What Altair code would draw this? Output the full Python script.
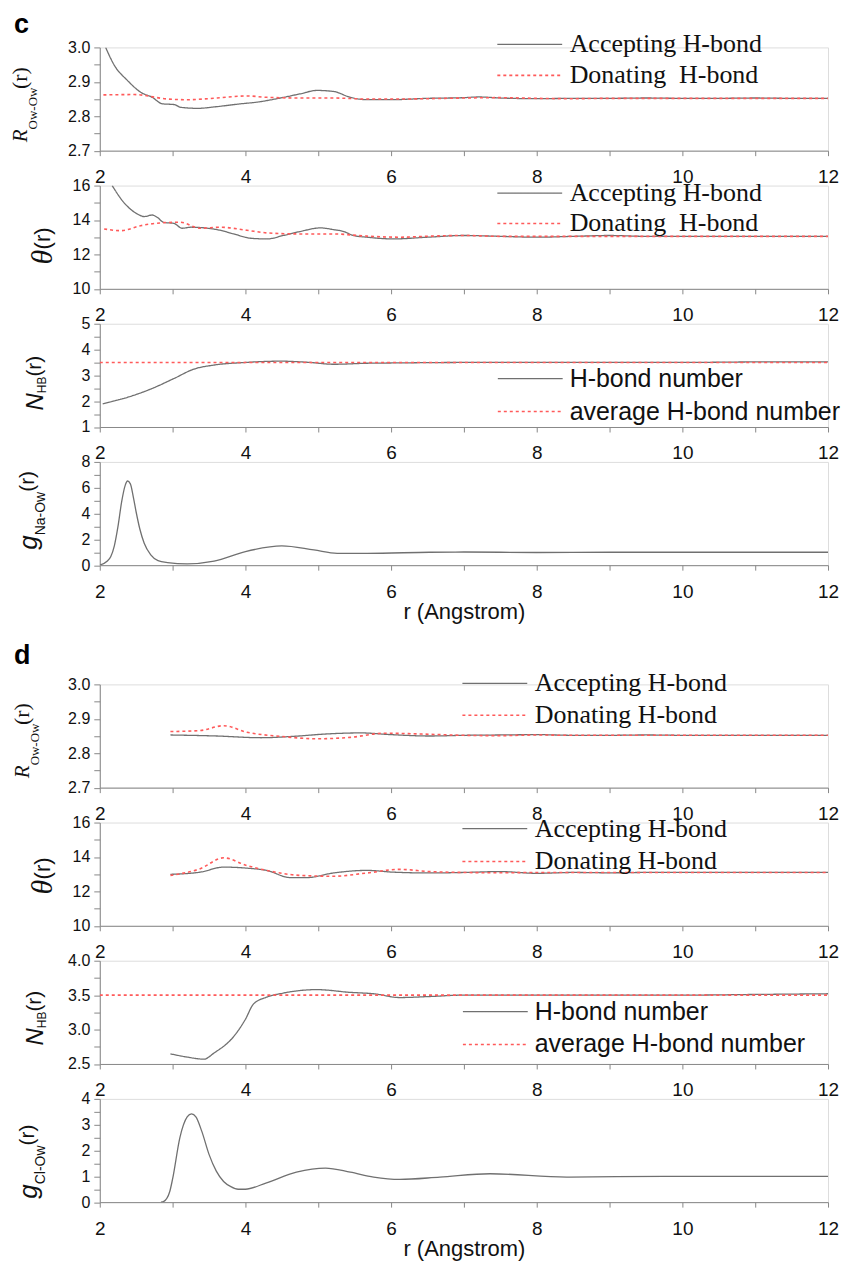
import altair as alt
import pandas as pd

# ---------------- data ----------------
# panel c : Na+
c_R_acc_x = [2.08, 2.2, 2.38, 2.56, 2.72, 2.86, 3.02, 3.11, 3.34, 3.61, 3.93, 4.16, 4.48, 4.75, 4.98,
             5.21, 5.44, 5.67, 5.99, 6.5, 7.0, 7.2, 7.5, 8.0, 8.5, 9.0, 9.5, 10.0, 10.5, 11.0, 11.5, 12.0]
c_R_acc_y = [3.0, 2.948, 2.904, 2.87, 2.855, 2.836, 2.834, 2.826, 2.823, 2.828, 2.836, 2.841, 2.853, 2.865, 2.875,
             2.872, 2.855, 2.848, 2.848, 2.852, 2.854, 2.856, 2.853, 2.851, 2.852, 2.852, 2.853, 2.852, 2.852, 2.853, 2.852, 2.852]
c_R_don_x = [2.05, 2.47, 2.93, 3.2, 3.61, 4.02, 4.29, 4.75, 5.21, 5.67, 6.12, 6.5, 7.0, 7.5, 8.0,
             8.5, 9.0, 9.5, 10.0, 10.5, 11.0, 11.5, 12.0]
c_R_don_y = [2.862, 2.863, 2.85, 2.848, 2.853, 2.859, 2.855, 2.853, 2.853, 2.85, 2.85, 2.851, 2.853, 2.854, 2.852,
             2.851, 2.852, 2.852, 2.852, 2.852, 2.852, 2.852, 2.852]

c_T_acc_x = [2.17, 2.33, 2.52, 2.61, 2.72, 2.79, 2.88, 3.02, 3.13, 3.25, 3.61, 3.84, 4.07, 4.3, 4.52, 4.75,
             5.03, 5.21, 5.35, 5.48, 5.67, 6.03, 6.5, 7.0, 7.5, 8.0, 8.5, 9.0, 9.5, 10.0, 10.5, 11.0, 11.5, 12.0]
c_T_acc_y = [16.0, 15.02, 14.34, 14.2, 14.29, 14.15, 13.86, 13.8, 13.52, 13.58, 13.44, 13.19, 12.94, 12.9, 13.1, 13.33,
             13.54, 13.44, 13.33, 13.1, 13.0, 12.9, 13.0, 13.1, 13.05, 13.0, 13.05, 13.1, 13.05, 13.05, 13.05, 13.05, 13.05, 13.05]
c_T_don_x = [2.06, 2.29, 2.56, 2.83, 3.1, 3.38, 3.66, 4.02, 4.3, 4.75, 5.21, 5.67, 6.12, 6.53, 7.0,
             7.5, 8.0, 8.5, 9.0, 9.5, 10.0, 10.5, 11.0, 11.5, 12.0]
c_T_don_y = [13.48, 13.38, 13.67, 13.83, 13.87, 13.52, 13.58, 13.4, 13.25, 13.19, 13.19, 13.06, 13.0, 13.06, 13.1,
             13.05, 13.05, 13.05, 13.05, 13.05, 13.05, 13.05, 13.05, 13.05, 13.05]

c_N_x = [2.04, 2.38, 2.7, 3.02, 3.29, 3.57, 4.0, 4.48, 4.89, 5.21, 5.67, 6.0, 7.0, 8.0, 9.0, 10.0, 11.0, 12.0]
c_N_y = [1.9, 2.15, 2.47, 2.88, 3.24, 3.4, 3.5, 3.55, 3.5, 3.43, 3.47, 3.48, 3.5, 3.5, 3.5, 3.5, 3.52, 3.52]
c_Navg_x = [2.0, 12.0]
c_Navg_y = [3.5, 3.5]

c_g_x = [2.0, 2.1, 2.15, 2.2, 2.25, 2.3, 2.35, 2.38, 2.42, 2.46, 2.5, 2.55, 2.61, 2.7, 2.8, 2.93, 3.2,
         3.57, 4.0, 4.5, 4.94, 5.26, 5.67, 6.53, 7.0, 8.0, 9.0, 10.0, 11.0, 12.0]
c_g_y = [0.0, 0.3, 0.65, 1.5, 3.0, 4.9, 6.2, 6.52, 6.3, 5.3, 4.1, 2.8, 1.7, 0.8, 0.35, 0.2, 0.1,
         0.31, 1.05, 1.49, 1.18, 0.92, 0.92, 1.0, 1.02, 0.98, 1.0, 1.0, 1.0, 1.0]

# panel d : Cl-
d_R_acc_x = [2.97, 3.61, 4.21, 4.66, 5.12, 5.58, 6.0, 6.53, 7.0, 7.5, 8.0, 8.5, 9.0, 9.5, 10.0, 10.5, 11.0, 11.5, 12.0]
d_R_acc_y = [2.853, 2.85, 2.845, 2.849, 2.856, 2.859, 2.854, 2.85, 2.852, 2.853, 2.854, 2.852, 2.852, 2.853, 2.852,
             2.852, 2.852, 2.852, 2.852]
d_R_don_x = [2.97, 3.38, 3.7, 4.02, 4.48, 4.98, 5.44, 5.9, 6.53, 7.0, 7.5, 8.0, 8.5, 9.0, 9.5, 10.0, 10.5, 11.0, 11.5, 12.0]
d_R_don_y = [2.863, 2.866, 2.88, 2.861, 2.849, 2.842, 2.846, 2.858, 2.855, 2.852, 2.851, 2.853, 2.852, 2.852, 2.852,
             2.852, 2.852, 2.852, 2.852, 2.852]

d_T_acc_x = [2.97, 3.38, 3.7, 4.02, 4.29, 4.62, 4.84, 5.21, 5.67, 6.02, 6.53, 7.0, 7.5, 8.0, 8.5, 9.0, 9.5, 10.0,
             10.5, 11.0, 11.5, 12.0]
d_T_acc_y = [12.99, 13.12, 13.41, 13.35, 13.22, 12.8, 12.8, 13.07, 13.22, 13.12, 13.07, 13.1, 13.15, 13.05, 13.1,
             13.08, 13.1, 13.1, 13.1, 13.1, 13.1, 13.1]
d_T_don_x = [2.97, 3.38, 3.7, 4.02, 4.29, 4.75, 5.21, 5.67, 6.12, 6.53, 7.0, 7.5, 8.0, 8.5, 9.0, 9.5, 10.0, 10.5,
             11.0, 11.5, 12.0]
d_T_don_y = [12.93, 13.32, 13.95, 13.5, 13.22, 12.93, 12.88, 13.07, 13.28, 13.15, 13.1, 13.08, 13.1, 13.1, 13.1,
             13.1, 13.1, 13.1, 13.1, 13.1, 13.1]

d_N_x = [2.97, 3.2, 3.43, 3.57, 3.84, 4.0, 4.11, 4.29, 4.52, 4.98, 5.44, 5.76, 6.12, 6.53, 7.0, 8.0, 9.0, 10.0, 11.0, 12.0]
d_N_y = [2.647, 2.6, 2.57, 2.66, 2.9, 3.15, 3.37, 3.47, 3.53, 3.58, 3.54, 3.52, 3.465, 3.48, 3.5, 3.5, 3.5, 3.5, 3.51, 3.52]
d_Navg_x = [2.0, 12.0]
d_Navg_y = [3.5, 3.5]

d_g_x = [2.84, 2.88, 2.96, 3.0, 3.1, 3.2, 3.26, 3.32, 3.4, 3.5, 3.6, 3.7, 3.8, 3.9, 4.0, 4.29, 4.7, 5.1, 5.44,
         5.76, 6.12, 6.67, 7.36, 8.41, 9.78, 12.0]
d_g_y = [0.0, 0.03, 0.4, 0.9, 2.5, 3.3, 3.42, 3.3, 2.75, 1.85, 1.2, 0.8, 0.6, 0.5, 0.5, 0.75, 1.16, 1.32, 1.16,
         0.97, 0.88, 0.97, 1.1, 0.97, 1.0, 1.0]

# legend texts
c_rt_labels = ["Accepting H-bond", "Donating\u00a0 H-bond"]
d_rt_labels = ["Accepting H-bond", "Donating H-bond"]
n_labels = ["H-bond number", "average H-bond number"]
x_title = "r (Angstrom)"

# ---------------- styling ----------------
SANS = "Liberation Sans"
SERIF = "Liberation Serif"
GRAY = "#707070"
RED = "#ff5a5a"
INK = "#111111"
W = 730
H = 103.5
SP = 34.5

SANS_W = {'(': .333, ')': .333, 'r': .333, 'N': .722, 'H': .722, 'B': .667, 'g': .556, 'a': .556,
          '-': .333, 'O': .778, 'w': .722, 'C': .722, 'l': .222, ' ': .278}
SERIF_W = {'R': .611, 'O': .722, 'w': .667, '-': .333, '(': .333, 'r': .333, ')': .333, 'θ': .5, ' ': .25}

one = pd.DataFrame({"k": [0]})


def est_width(text, fam, size):
    table = SERIF_W if fam == SERIF else SANS_W
    return sum(table.get(ch, .55) for ch in text) * size


def two_series(xa, ya, xb, yb, labels):
    return pd.concat([pd.DataFrame({"x": xa, "y": ya, "s": labels[0]}),
                      pd.DataFrame({"x": xb, "y": yb, "s": labels[1]})], ignore_index=True)


def x_enc(show_title):
    ax = alt.Axis(values=list(range(2, 13)),
                  labelExpr="datum.value % 2 == 0 ? datum.label : ''",
                  labelFont=SANS, labelFontSize=19, labelColor=INK, labelPadding=12,
                  labelFlush=False, tickSize=5, grid=False,
                  titleFont=SANS, titleFontSize=22, titleFontWeight="normal", titleColor=INK,
                  titlePadding=0)
    if show_title:
        return alt.X("x:Q", scale=alt.Scale(domain=[2, 12], nice=False), axis=ax, title=x_title)
    return alt.X("x:Q", scale=alt.Scale(domain=[2, 12], nice=False), axis=ax, title=None)


def y_enc(dom, ticks, majors, fmt):
    expr = "indexof(%s, datum.value) >= 0 ? format(datum.value, '%s') : ''" % (
        "[" + ",".join(repr(m) for m in majors) + "]", fmt)
    ax = alt.Axis(values=ticks, labelExpr=expr, labelFont=SANS, labelFontSize=16,
                  labelColor=INK, labelPadding=4, tickSize=6, grid=False, labelFlush=False)
    return alt.Y("y:Q", scale=alt.Scale(domain=dom, nice=False, zero=False), axis=ax, title=None)


def legend(x, row1, gap, font, size):
    # a 65 px long stroke drawn by a custom path (unit box scaled by sqrt(size)/2 = 6.5)
    return alt.Legend(orient="none", legendX=x + 20, legendY=row1 - size / 2, title=None,
                      symbolType="M-5,0H5", symbolSize=169, symbolStrokeWidth=1.3,
                      labelFont=font, labelFontSize=size, labelColor=INK, labelLimit=500,
                      labelOffset=27, rowPadding=gap - size, padding=0)


def ytitle(segments, y_start):
    out = []
    y = y_start
    for text, fam, size, style, weight, xb in segments:
        out.append(alt.Chart(one).mark_text(text=text, font=fam, fontSize=size, fontStyle=style,
                                            fontWeight=weight, angle=270, align="left",
                                            baseline="alphabetic", color=INK)
                   .encode(x=alt.value(xb), y=alt.value(y)))
        y -= est_width(text, fam, size)
    return out


def tag(letter, y):
    return alt.Chart(one).mark_text(text=letter, font=SANS, fontSize=27, fontWeight="bold",
                                    align="left", baseline="alphabetic", color="black").encode(
        x=alt.value(-86), y=alt.value(y))


def pair_panel(df, labels, dom, ticks, majors, fmt, leg, title_layers, extra=()):
    lines = alt.Chart(df).mark_line(interpolate="monotone", clip=True).encode(
        x=x_enc(False),
        y=y_enc(dom, ticks, majors, fmt),
        color=alt.Color("s:N", scale=alt.Scale(domain=labels, range=[GRAY, RED]), legend=leg),
        strokeDash=alt.StrokeDash("s:N", scale=alt.Scale(domain=labels, range=[[1, 0], [3, 3]]), legend=leg),
        strokeWidth=alt.StrokeWidth("s:N", scale=alt.Scale(domain=labels, range=[1.3, 1.6]), legend=None),
        order=alt.Order("s:N", sort="descending"),
    )
    return alt.layer(lines, *title_layers, *extra).properties(width=W, height=H)


def g_panel(xs, ys, dom, ticks, majors, title_layers):
    df = pd.DataFrame({"x": xs, "y": ys})
    line = alt.Chart(df).mark_line(interpolate="monotone", color=GRAY, strokeWidth=1.3, clip=True).encode(
        x=x_enc(True), y=y_enc(dom, ticks, majors, "d"))
    return alt.layer(line, *title_layers).properties(width=W, height=H)


R_ticks = [2.7, 2.75, 2.8, 2.85, 2.9, 2.95, 3.0]
R_major = [2.7, 2.8, 2.9, 3.0]
T_ticks = [10, 11, 12, 13, 14, 15, 16]
T_major = [10, 12, 14, 16]


def R_title(y0, xb):
    return ytitle([("R", SERIF, 21, "italic", "normal", xb),
                   ("Ow-Ow", SERIF, 13, "normal", "normal", xb + 10),
                   ("(r)", SERIF, 22, "normal", "normal", xb)], y0)


def T_title(y0, xb):
    return ytitle([("θ", SERIF, 30, "italic", "normal", xb),
                   (" (r)", SANS, 22, "normal", "normal", xb - 2)], y0)


def N_title(y0, xb):
    return ytitle([("N", SANS, 24, "italic", "normal", xb),
                   ("HB", SANS, 12, "normal", "normal", xb + 3),
                   ("(r)", SANS, 21, "normal", "normal", xb - 2)], y0)


def g_title(y0, xb, sub):
    return ytitle([("g", SANS, 26, "italic", "normal", xb),
                   (sub, SANS, 14, "normal", "normal", xb + 8),
                   ("(r)", SANS, 21, "normal", "normal", xb - 3)], y0)


LEG_SERIF = 26
LEG_SANS = 25

# ---------------- group c ----------------
c1 = pair_panel(two_series(c_R_acc_x, c_R_acc_y, c_R_don_x, c_R_don_y, c_rt_labels), c_rt_labels,
                [2.7, 3.0], R_ticks, R_major, ".1f", legend(398, -3, 31, SERIF, LEG_SERIF),
                R_title(95, -73), extra=(tag("c", -14),))
c2 = pair_panel(two_series(c_T_acc_x, c_T_acc_y, c_T_don_x, c_T_don_y, c_rt_labels), c_rt_labels,
                [10, 16], T_ticks, T_major, "d", legend(398, 7.5, 30.5, SERIF, LEG_SERIF), T_title(79, -48))
c3 = pair_panel(two_series(c_N_x, c_N_y, c_Navg_x, c_Navg_y, n_labels), n_labels,
                [1, 5], [1, 1.5, 2, 2.5, 3, 3.5, 4, 4.5, 5], [1, 2, 3, 4, 5], "d",
                legend(399, 55, 32, SANS, LEG_SANS), N_title(87, -57))
c4 = g_panel(c_g_x, c_g_y, [0, 8], [0, 1, 2, 3, 4, 5, 6, 7, 8], [0, 2, 4, 6, 8],
             g_title(88, -63, "Na-Ow"))

# ---------------- group d ----------------
d1 = pair_panel(two_series(d_R_acc_x, d_R_acc_y, d_R_don_x, d_R_don_y, d_rt_labels), d_rt_labels,
                [2.7, 3.0], R_ticks, R_major, ".1f", legend(363, -1, 32, SERIF, LEG_SERIF),
                R_title(94, -71), extra=(tag("d", -20),))
d2 = pair_panel(two_series(d_T_acc_x, d_T_acc_y, d_T_don_x, d_T_don_y, d_rt_labels), d_rt_labels,
                [10, 16], T_ticks, T_major, "d", legend(363, 6, 33, SERIF, LEG_SERIF), T_title(72, -48))
d3 = pair_panel(two_series(d_N_x, d_N_y, d_Navg_x, d_Navg_y, n_labels), n_labels,
                [2.5, 4.0], [2.5, 2.75, 3.0, 3.25, 3.5, 3.75, 4.0], [2.5, 3.0, 3.5, 4.0], ".1f",
                legend(364, 51, 32, SANS, LEG_SANS), N_title(85, -57))
d4 = g_panel(d_g_x, d_g_y, [0, 4], [0, 0.5, 1, 1.5, 2, 2.5, 3, 3.5, 4], [0, 1, 2, 3, 4],
             g_title(100, -63, "Cl-Ow"))

spacer = alt.Chart(one).mark_point(opacity=0).encode(
    x=alt.X("k:Q", axis=None), y=alt.Y("k:Q", axis=None)).properties(
    width=W, height=49.5, view=alt.ViewBackground(stroke="transparent", strokeWidth=0, strokeOpacity=0))

chart = alt.vconcat(c1, c2, c3, c4, spacer, d1, d2, d3, d4, spacing=SP, bounds="flush").resolve_scale(
    color="independent", strokeDash="independent", strokeWidth="independent", y="independent",
    x="independent"
).resolve_legend(color="independent", strokeDash="independent").properties(
    padding={"left": 0, "top": 1, "right": 0, "bottom": 0}
).configure_view(strokeWidth=0, stroke="transparent").configure_axis(
    domainColor="black", tickColor="black", domainWidth=1.5, tickWidth=1.5
).configure(background="white")

chart.save("out.html", embed_options={"renderer": "svg", "actions": False})
